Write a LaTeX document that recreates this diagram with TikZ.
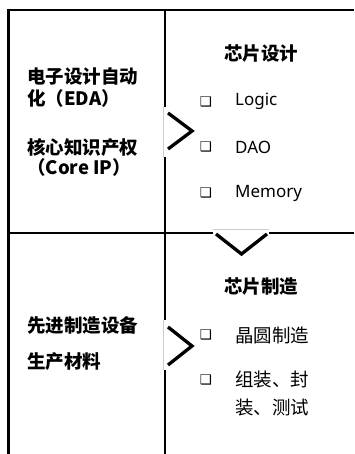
\documentclass[tikz,border=0pt]{standalone}
\usepackage{fontspec}
\setmainfont{Noto Sans CJK SC}
\newfontfamily\latinfont{Noto Sans}
\newfontfamily\symfont{DejaVu Sans}
\begin{document}
\begin{tikzpicture}[x=1pt,y=-1pt,
  frame/.style={line width=2.2pt,black},
  chev/.style={line width=3.3pt,black,miter limit=10},
  cover/.style={fill=white,draw=none},
  edge/.style={draw=black!20,line width=0.6pt},
  lefttxt/.style={anchor=west,inner sep=0pt,font=\fontsize{18.5}{22}\selectfont\bfseries},
  title/.style={inner sep=0pt,font=\fontsize{18.5}{22}\selectfont\bfseries},
  item/.style={anchor=west,inner sep=0pt,font=\fontsize{18.5}{22}\selectfont},
  litem/.style={anchor=west,inner sep=0pt,font=\fontsize{17}{20}\latinfont},
  bul/.style={inner sep=0pt,font=\fontsize{13.5}{15}\symfont}]
\useasboundingbox[fill=white] (0,0) rectangle (354,454);
% frame
\coordinate (tl) at (8.5,10);
\coordinate (tr) at (354,10);
\coordinate (bl) at (8.5,454);
\coordinate (tm) at (165,10);
\coordinate (bm) at (165,454);
\coordinate (ml) at (8.5,233);
\coordinate (mr) at (354,233);
\draw[frame] (bl) -- (tl) -- (tr);
\draw[frame] (tm) -- (bm);
\draw[frame] (ml) -- (mr);
% chevron 1
\fill[cover] (163,107) rectangle (196,157);
\draw[edge] (163.3,107) -- (163.3,157);
\draw[chev] (168,113) -- (192,131) -- (168,149);
% chevron 2
\fill[cover] (163,320) rectangle (196,370);
\draw[edge] (163.3,320) -- (163.3,370);
\draw[chev] (168,327) -- (192,346) -- (168,365);
% chevron down
\fill[cover] (213,229.5) rectangle (269,256);
\draw[edge] (213,229.5) -- (269,229.5);
\draw[chev] (216,234) -- (241.5,254) -- (267,234);
% left texts
\node[lefttxt] (l1) at (27,77) {电子设计自动};
\node[lefttxt] (l2) at (27,98) {化（EDA）};
\node[lefttxt] (l3) at (27,147) {核心知识产权};
\node[lefttxt] (l4) at (27,167) {（Core IP）};
\node[lefttxt] (l5) at (27,325) {先进制造设备};
\node[lefttxt] (l6) at (27,362) {生产材料};
% right top
\node[title] (t1) at (261,54) {芯片设计};
\node[bul] (b1) at (206,102) {❑};
\node[bul] (b2) at (206,147) {❑};
\node[bul] (b3) at (206,193) {❑};
\node[litem] (i1) at (235,101) {Logic};
\node[litem] (i2) at (235,147) {DAO};
\node[litem] (i3) at (235,193) {Memory};
% right bottom
\node[title] (t2) at (261,287) {芯片制造};
\node[bul] (b4) at (206,335) {❑};
\node[bul] (b5) at (206,380) {❑};
\node[item] (i4) at (235,335) {晶圆制造};
\node[item] (i5) at (235,380) {组装、封};
\node[item] (i6) at (235,408) {装、测试};
\end{tikzpicture}
\end{document}
